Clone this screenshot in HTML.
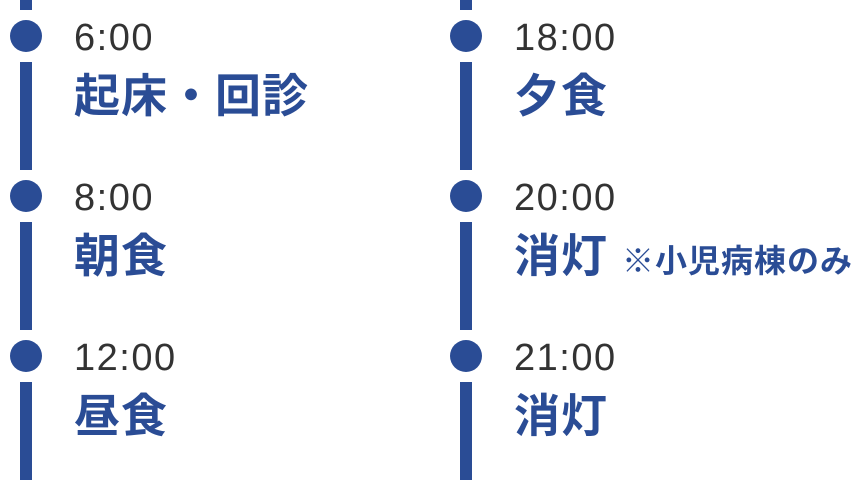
<!DOCTYPE html>
<html><head><meta charset="utf-8"><style>
body{margin:0;width:858px;height:480px;background:#fff;position:relative;overflow:hidden;font-family:"Liberation Sans","Noto Sans CJK JP",sans-serif}
.l{position:absolute;width:12px;background:#2a4c95}
.d{position:absolute;width:32px;height:32px;border-radius:50%;background:#2a4c95}
.t{position:absolute;font-size:38px;color:#333;letter-spacing:1.5px;line-height:1}
.h{position:absolute;font-size:46px;font-weight:bold;color:#2a4c95;letter-spacing:1px;line-height:1;white-space:nowrap}
.n{font-size:32px;letter-spacing:1px;margin-left:14px}
</style></head><body>
<div class="l" style="left:20px;top:0;height:10px"></div>
<div class="l" style="left:20px;top:62px;height:108px"></div>
<div class="l" style="left:20px;top:222px;height:108px"></div>
<div class="l" style="left:20px;top:382px;height:98px"></div>
<div class="l" style="left:460px;top:0;height:10px"></div>
<div class="l" style="left:460px;top:62px;height:108px"></div>
<div class="l" style="left:460px;top:222px;height:108px"></div>
<div class="l" style="left:460px;top:382px;height:98px"></div>
<div class="d" style="left:10px;top:20px"></div>
<div class="d" style="left:10px;top:180px"></div>
<div class="d" style="left:10px;top:340px"></div>
<div class="d" style="left:450px;top:20px"></div>
<div class="d" style="left:450px;top:180px"></div>
<div class="d" style="left:450px;top:340px"></div>
<div class="t" style="left:74px;top:19px">6:00</div>
<div class="t" style="left:74px;top:179px">8:00</div>
<div class="t" style="left:74px;top:339px">12:00</div>
<div class="t" style="left:514px;top:19px">18:00</div>
<div class="t" style="left:514px;top:179px">20:00</div>
<div class="t" style="left:514px;top:339px">21:00</div>
<div class="h" style="left:74px;top:73px">起床・回診</div>
<div class="h" style="left:74px;top:233px">朝食</div>
<div class="h" style="left:74px;top:393px">昼食</div>
<div class="h" style="left:514px;top:73px">夕食</div>
<div class="h" style="left:514px;top:233px">消灯<span class="n">※小児病棟のみ</span></div>
<div class="h" style="left:514px;top:393px">消灯</div>
</body></html>
